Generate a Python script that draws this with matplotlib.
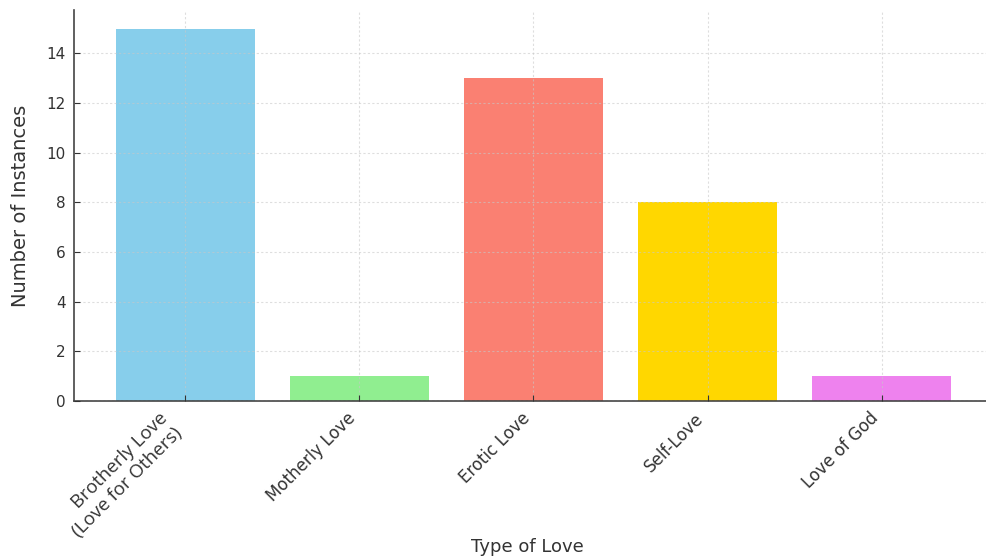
import matplotlib.pyplot as plt

categories = [
    "Brotherly Love\n(Love for Others)",
    "Motherly Love",
    "Erotic Love",
    "Self-Love",
    "Love of God",
]
counts = [15, 1, 13, 8, 1]
colors = ["skyblue", "lightgreen", "salmon", "gold", "violet"]

fig = plt.figure(figsize=(9.87, 5.57), dpi=100)
ax = fig.add_axes([0.075, 0.28, 0.931, 0.702])

ax.bar(range(len(categories)), counts, color=colors, width=0.8)

# grid sits over the bars, faint
ax.grid(True, linestyle=(0, (2, 2)), color="#c8c8c8", alpha=0.6, linewidth=0.8)
ax.set_axisbelow(False)

ax.spines["top"].set_visible(False)
ax.spines["right"].set_visible(False)
for s in ["left", "bottom"]:
    ax.spines[s].set_color("#444444")
    ax.spines[s].set_linewidth(1.2)

ax.set_xticks(range(len(categories)))
ax.set_xticklabels(categories, rotation=45, ha="right", fontsize=12, color="#333333")
first = ax.get_xticklabels()[0]
first.set_fontfamily("Open Sans")
first.set_fontsize(13.5)
first.set_color("black")
ax.tick_params(axis="both", direction="in", length=4, pad=6, colors="#333333")
ax.tick_params(axis="y", labelsize=11)
ax.set_yticks([0, 2, 4, 6, 8, 10, 12, 14])

ax.set_xlabel("Type of Love", fontsize=13, color="#333333")
ax.xaxis.set_label_coords(0.493, -0.35)
ax.set_ylabel("Number of Instances", fontsize=14, color="#333333", labelpad=12)

plt.savefig("out.png", dpi=100)
